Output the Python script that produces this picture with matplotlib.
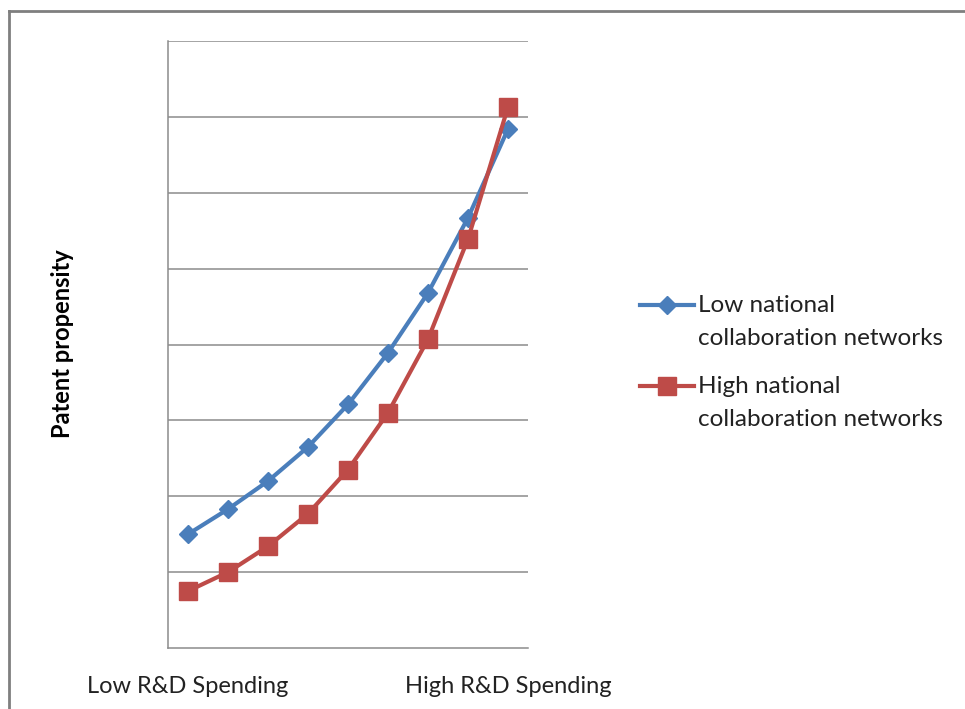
import matplotlib
matplotlib.use("Agg")
import matplotlib.pyplot as plt
from matplotlib.lines import Line2D

plt.rcParams['font.family'] = ['Lato', 'DejaVu Sans']

# Patent propensity across nine R&D spending levels (arbitrary units)
spending_levels = list(range(9))
x_tick_labels = ["Low R&D Spending", "", "", "", "", "", "", "", "High R&D Spending"]
low_collab = [1.50, 1.83, 2.20, 2.65, 3.21, 3.89, 4.68, 5.67, 6.84]
high_collab = [0.75, 1.00, 1.34, 1.77, 2.35, 3.10, 4.07, 5.39, 7.13]
series_names = [["Low national", "collaboration networks"],
                ["High national", "collaboration networks"]]

BLUE = "#4A7EBB"
RED = "#BE4B48"
GRID = "#8C8C8C"
TEXT = "#222222"

W, H = 965, 709
fig = plt.figure(figsize=(W / 100, H / 100), dpi=100)
fig.patch.set_facecolor("white")

ax = fig.add_axes([168 / W, 1 - 648 / H, 360 / W, (648 - 41) / H])

series_styles = [(low_collab, BLUE, "D", 8.8), (high_collab, RED, "s", 13)]
for z, (vals, col, mk, ms) in enumerate(series_styles):
    ax.plot(spending_levels, vals, color=col, lw=3, marker=mk, ms=ms,
            markeredgecolor=col, zorder=3 + z)

ax.set_xlim(-0.5, 8.5)
ax.set_ylim(0, 8)
ax.set_yticks(range(1, 9))
ax.set_yticklabels([])
ax.tick_params(axis="y", length=0)
ax.yaxis.grid(True, color=GRID, lw=1.1)
ax.set_axisbelow(True)

ax.set_xticks(spending_levels)
ax.set_xticklabels(x_tick_labels, fontsize=17, color=TEXT)
ax.tick_params(axis="x", length=0, pad=20)

for side in ("top", "right"):
    ax.spines[side].set_visible(False)
for side in ("left", "bottom"):
    ax.spines[side].set_color(GRID)
    ax.spines[side].set_linewidth(1.1)

fig.text(62 / W, 1 - 344 / H, "Patent propensity", rotation=90,
         ha="center", va="center", fontsize=17, fontweight="bold", color="black")

# Legend to the right of the plot area: line sample with marker, then two text lines
legend_rows = [305, 386]
for (vals, col, mk, ms), names, y in zip(series_styles, series_names, legend_rows):
    yf = 1 - y / H
    fig.add_artist(Line2D([640 / W, 694 / W], [yf, yf], transform=fig.transFigure,
                          color=col, lw=3))
    fig.add_artist(Line2D([667 / W], [yf], transform=fig.transFigure,
                          color=col, marker=mk, ms=ms, markeredgecolor=col))
    for i, line in enumerate(names):
        fig.text(698 / W, 1 - (y + 34 * i) / H, line, ha="left", va="center",
                 fontsize=17.5, color=TEXT)

# Outer frame: top and left edges
fig.add_artist(Line2D([9 / W, 9 / W], [0, 1 - 11 / H], transform=fig.transFigure,
                      color="#7F7F7F", lw=2))
fig.add_artist(Line2D([9 / W, 1], [1 - 11 / H, 1 - 11 / H], transform=fig.transFigure,
                      color="#7F7F7F", lw=2))

fig.savefig("out.png", dpi=100)
